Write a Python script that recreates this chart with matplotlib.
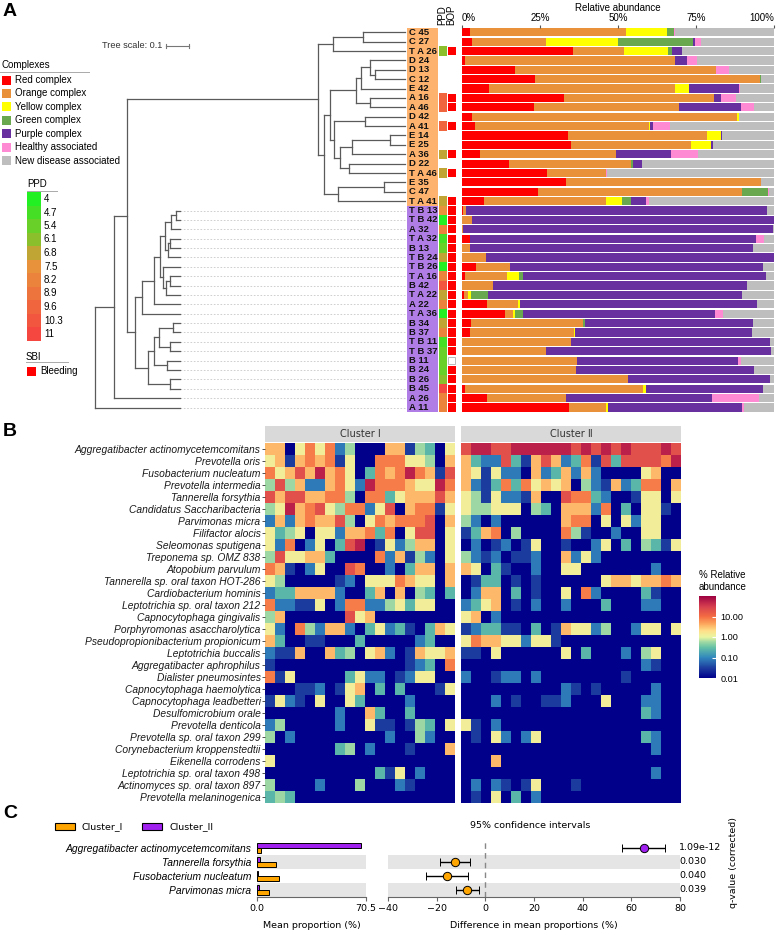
import numpy as np
import matplotlib
matplotlib.use("Agg")
import matplotlib.pyplot as plt
from matplotlib.colors import LinearSegmentedColormap, LogNorm, Normalize
from matplotlib.patches import Rectangle
from matplotlib.cm import ScalarMappable

plt.rcParams['font.family'] = ['Liberation Sans', 'DejaVu Sans']

W, H = 777, 935
fig = plt.figure(figsize=(W / 100, H / 100), dpi=100)


def px_axes(x0, y0, x1, y1):
    # axes placed by pixel box (top-left origin)
    return fig.add_axes([x0 / W, 1 - y1 / H, (x1 - x0) / W, (y1 - y0) / H])


# ---------------- panel A data ----------------
samples = ["C 45", "C 27", "T A 26", "D 24", "D 13", "C 12", "E 42", "A 16", "A 46", "D 42",
           "A 41", "E 14", "E 25", "A 36", "D 22", "T A 46", "E 35", "C 47", "T A 41",
           "T B 13", "T B 42", "A 32", "T A 32", "B 13", "T B 24", "T B 26", "T A 16", "B 42",
           "T A 22", "A 22", "T A 36", "B 34", "B 37", "T B 11", "T B 37", "B 11", "B 24",
           "B 26", "B 45", "A 26", "A 11"]
group = ["orange"] * 19 + ["purple"] * 22

red = [2.5, 3.3, 35.7, 1.1, 17.2, 23.3, 8.7, 32.7, 23.1, 3.3, 4.3, 34.1, 34.9, 5.9, 15.0, 27.2, 33.4, 24.5, 7.0,
       0.5, 0, 0, 2.5, 0, 0, 4.7, 1.1, 0, 0.7, 8.1, 14.0, 2.9, 2.6, 0, 0, 0, 0, 0, 1.0, 8.2, 34.4]
orange = [50.1, 23.7, 16.3, 67.2, 64.0, 72.1, 59.4, 47.9, 46.3, 84.9, 55.5, 44.3, 38.4, 43.5, 39.1, 18.9, 62.3, 65.2, 39.2,
          0.8, 3.4, 0.5, 0.2, 2.7, 7.9, 10.7, 13.4, 10.0, 1.4, 9.8, 2.5, 36.0, 33.3, 35.1, 26.9, 37.0, 36.6, 53.2, 56.9, 25.2, 11.8]
yellow = [13.2, 23.1, 14.1, 0, 0, 0, 4.7, 0, 0, 0.4, 0.4, 4.4, 6.6, 0, 0, 0, 0, 0, 5.1,
          0, 0, 0, 0, 0, 0, 0, 3.9, 0, 0.9, 0.7, 0.6, 0, 0.5, 0, 0, 0, 0, 0, 0.9, 0, 0.5]
green = [2.1, 24.0, 1.1, 0, 0, 0.3, 0, 0, 0, 0.2, 0, 0, 0, 0, 0.6, 0, 0, 8.2, 2.8,
         0, 0, 0, 0, 0, 0, 0, 1.1, 0, 5.3, 0, 2.5, 0.4, 0, 0, 0, 0, 0, 0, 0, 0, 0]
purple = [0, 0.5, 3.3, 3.7, 0, 0, 16.0, 2.3, 20.0, 0, 0.9, 0.6, 0.4, 17.4, 3.1, 0, 0, 0, 4.9,
          96.5, 96.4, 99.2, 91.3, 90.4, 92.0, 80.9, 78.0, 81.3, 81.4, 76.0, 61.4, 53.8, 56.5, 63.6, 71.9, 51.4,
          56.9, 45.5, 37.6, 46.8, 42.9]
pink = [0.3, 1.8, 0, 3.2, 4.3, 0, 0.2, 4.7, 4.2, 0, 5.5, 0, 0, 8.9, 0, 0.3, 0, 0.3, 0.8,
        0, 0, 0, 2.7, 0, 0, 0, 0, 0, 0, 0, 2.5, 0, 0, 0, 0, 0.8, 0, 0, 0, 14.9, 0.7]
gray = [31.8, 23.6, 29.5, 24.8, 14.5, 4.3, 11.0, 12.4, 6.4, 11.2, 33.4, 16.6, 19.7, 24.3, 42.2, 53.6, 4.3, 1.8, 40.2,
        2.2, 0.2, 0.3, 3.3, 6.9, 0.1, 3.7, 2.5, 8.7, 10.3, 5.4, 16.5, 6.9, 7.1, 1.3, 1.2, 10.8, 6.5, 1.3, 3.6, 4.9, 9.7]

nan = np.nan
ppd = [nan, nan, 6.1, nan, nan, nan, nan, 9.6, 9.6, nan, 9.6, nan, nan, 6.8, nan, 6.8, nan, nan, 6.8,
       7.5, 4.0, 8.2, 4.7, 5.4, 6.8, 4.0, 8.2, 10.3, 6.8, 8.2, 4.0, 6.8, 8.2, 4.7, 5.4, 5.4, 5.4, 6.1, 11.0, 8.2, 8.2]
bop = [nan, nan, 1, nan, nan, nan, nan, 1, 1, nan, 1, nan, nan, 1, nan, 1, nan, nan, 1,
       1, 1, 1, 1, 1, 1, 1, 1, 1, 1, 1, 1, 1, 1, 1, 1, 0, 1, 1, 1, 1, 1]
ppd_ticks = [4, 4.7, 5.4, 6.1, 6.8, 7.5, 8.2, 8.9, 9.6, 10.3, 11]

complex_names = ["Red complex", "Orange complex", "Yellow complex", "Green complex",
                 "Purple complex", "Healthy associated", "New disease associated"]
complex_vals = [red, orange, yellow, green, purple, pink, gray]
complex_cols = ["#FF0000", "#E8913A", "#FFFF00", "#6AA84F", "#67309E", "#FF8AD4", "#BEBEBE"]

# tree: (depth, child, child); depth in tree units (0.1 = scale bar)
tree = (0.0,
        (0.082,
         (0.137,
          (0.957,
           (1.021, (1.150, "C 45", "C 27"), "T A 26"),
           (0.983,
            (1.009,
             (1.120,
              (1.142, (1.180, "D 24", (1.202, "D 13", "C 12")), "E 42"),
              (1.180, "A 16", "A 46")),
             (1.026,
              (1.159, "D 42", "A 41"),
              (1.052,
               (1.103, (1.266, "E 14", "E 25"), "A 36"),
               (1.090, "D 22", "T A 46")))),
            (1.043, (1.240, "E 35", "C 47"), "T A 41"))),
          (0.172,
           (0.202,
            (0.253,
             (0.279,
              (0.300,
               (0.326, (0.348, "T B 13", "T B 42"), "A 32"),
               (0.313, (0.322, "T A 32", "B 13"), "T B 24")),
              (0.292, "T B 26", (0.305, (0.322, "T A 16", "B 42"), "T A 22"))),
             "A 22"),
            "T A 36"),
           (0.227,
            (0.253,
             (0.275, (0.335, "B 34", "B 37"), (0.322, "T B 11", "T B 37")),
             (0.309, "B 11", "B 24")),
            (0.322, "B 26", "B 45")))),
         "A 26"),
        "A 11")
tip_orange, tip_purple = 1.33, 0.365

# ---------------- panel B data ----------------
species = ["Aggregatibacter actinomycetemcomitans", "Prevotella oris", "Fusobacterium nucleatum",
           "Prevotella intermedia", "Tannerella forsythia", "Candidatus Saccharibacteria",
           "Parvimonas micra", "Filifactor alocis", "Seleomonas sputigena", "Treponema sp. OMZ 838",
           "Atopobium parvulum", "Tannerella sp. oral taxon HOT-286", "Cardiobacterium hominis",
           "Leptotrichia sp. oral taxon 212", "Capnocytophaga gingivalis", "Porphyromonas asaccharolytica",
           "Pseudopropionibacterium propionicum", "Leptotrichia buccalis", "Aggregatibacter aphrophilus",
           "Dialister pneumosintes", "Capnocytophaga haemolytica", "Capnocytophaga leadbetteri",
           "Desulfomicrobium orale", "Prevotella denticola", "Prevotella sp. oral taxon 299",
           "Corynebacterium kroppenstedtii", "Eikenella corrodens", "Leptotrichia sp. oral taxon 498",
           "Actinomyces sp. oral taxon 897", "Prevotella melaninogenica"]
# abundance class per cell (0 = 0.01 % ... 9 = highest)
levels = [0.01, 0.03, 0.08, 0.25, 0.55, 1.3, 3.5, 8.0, 20.0, 55.0]
cluster1 = ["6605757240006614305", "5616767150077755406", "7568696750376797618", "4846226752977765597",
            "8688667740773566686", "4596785477258067715", "2626766840576777806", "5345055266737058805",
            "5270250389015246605", "4855663000072614205", "7610250087002036606", "5400000120555765506",
            "2336666200360604303", "7221150277224535500", "4600000085600000000", "5207426620352310365",
            "6300110003000002300", "2116006340562016556", "1000000000000012307", "7150000035220125500",
            "0001120156030300015", "1521050053000020000", "0000000200630030000", "2400000200511014305",
            "4020000000002004200", "0000000340200010006", "5000000000000000000", "0000000000031502000",
            "4000020004000210000", "3430000000000000000"]
cluster2 = ["8998899999989898988898", "6322831686237183888879", "6515220623626200005600",
            "6213737565604216237706", "5415221600877320015505", "5445550430666270305510",
            "4202000000677050525500", "1367040000741002005500", "0201201500100250304315",
            "4212011200625200000000", "6503100200550000000200", "0133010100000056656676",
            "0266030100507200003100", "2356010200200030002200", "5602000000000000000000",
            "1233110301655240025505", "5766552551000000000000", "1105000000503000204500",
            "0000000000000000002100", "2001220200000000100000", "0000000000210100000200",
            "0002010011200050002200", "0000000000000000003200", "5102000000000000000000",
            "0105202500000000003200", "0000000000000000000200", "0006000000000000000000",
            "0000000000000000000200", "0202101500010000000000", "0105030200000000000000"]

# ---------------- panel C data ----------------
c_species = ["Aggregatibacter actinomycetemcomitans", "Tannerella forsythia",
             "Fusobacterium nucleatum", "Parvimonas micra"]
mean_I = [2.6, 12.4, 14.2, 7.8]
mean_II = [67.2, 2.0, 0.5, 1.5]
diff = [65.1, -12.5, -15.7, -7.4]
ci_low = [56.2, -18.5, -24.2, -12.0]
ci_high = [74.0, -6.4, -7.1, -2.7]
qvals = ["1.09e-12", "0.030", "0.040", "0.039"]

# ---------------- background (pixel) axes for legends/annotations ----------------
bg = px_axes(0, 0, W, H)
bg.set_xlim(0, W)
bg.set_ylim(H, 0)
bg.axis('off')

for letter, y in [("A", 11), ("B", 432), ("C", 813)]:
    bg.text(3, y, letter, fontsize=14, fontweight='bold', va='center', ha='left')

# ================= panel A =================
n = len(samples)
row0, pitch = 32.3, 9.38
ytop, ybot = row0 - pitch / 2, row0 + (n - 0.5) * pitch
row_of = {s: i for i, s in enumerate(samples)}
tree_col = "#5a5a5a"

ax_tree = px_axes(60, ytop, 407, ybot)
ax_tree.set_xlim(-0.150, 1.339)
ax_tree.set_ylim(n - 0.5, -0.5)
ax_tree.axis('off')


def draw_node(node):
    if isinstance(node, str):
        i = row_of[node]
        tip = tip_orange if group[i] == "orange" else tip_purple
        if tip < tip_orange:
            ax_tree.plot([tip, tip_orange], [i, i], color="#c8c8c8", lw=0.6, ls=(0, (2, 2)))
        return i, tip
    depth = node[0]
    pos = [draw_node(k) for k in node[1:]]
    ys = [p[0] for p in pos]
    ax_tree.plot([depth, depth], [min(ys), max(ys)], color=tree_col, lw=0.9, solid_capstyle='projecting')
    for y, d in pos:
        ax_tree.plot([depth, d], [y, y], color=tree_col, lw=0.9)
    return (min(ys) + max(ys)) / 2, depth


draw_node(tree)

# tree scale
ax_tree.plot([0.305, 0.405], [1.46, 1.46], color="#777777", lw=0.8)
for xx in (0.305, 0.405):
    ax_tree.plot([xx, xx], [1.26, 1.66], color="#777777", lw=0.8)
ax_tree.text(0.29, 1.46, "Tree scale: 0.1", fontsize=6.6, ha='right', va='center', color="#333333")

# sample labels
label_bg = {"orange": "#FDB36E", "purple": "#B07DE6"}
ax_lab = px_axes(407, ytop, 437.5, ybot)
ax_lab.barh(range(n), 1, height=1.0, color=[label_bg[g] for g in group], lw=0)
for i, s in enumerate(samples):
    ax_lab.text(0.07, i, s, fontsize=6.8, fontweight='bold', va='center', ha='left', color="#111111")
ax_lab.set_xlim(0, 1)
ax_lab.set_ylim(n - 0.5, -0.5)
ax_lab.axis('off')

# PPD / BOP columns
ppd_cmap = LinearSegmentedColormap.from_list(
    "ppd", [(0.0, "#22F022"), (0.3, "#8CC02C"), (0.4, "#C0A535"), (0.5, "#E8923C"), (1.0, "#F5473F")])
ppd_norm = Normalize(4, 11)
ax_cov = px_axes(438.7, ytop, 456, ybot)
for i in range(n):
    if not np.isnan(ppd[i]):
        ax_cov.barh(i, 0.93, left=0, height=1.0, color=ppd_cmap(ppd_norm(ppd[i])), lw=0)
    if not np.isnan(bop[i]):
        if bop[i] == 1:
            ax_cov.barh(i, 0.95, left=1.03, height=0.88, color="#FF0000", lw=0)
        else:
            ax_cov.barh(i, 0.85, left=1.08, height=0.8, color="white", edgecolor="#b0b0b0", lw=0.6)
ax_cov.text(0.46, -0.75, "PPD", rotation=90, fontsize=7, ha='center', va='bottom')
ax_cov.text(1.5, -0.75, "BOP", rotation=90, fontsize=7, ha='center', va='bottom')
ax_cov.set_xlim(0, 2)
ax_cov.set_ylim(n - 0.5, -0.5)
ax_cov.axis('off')

# stacked relative abundance bars
ax_bar = px_axes(461.7, ytop, 774.3, ybot)
left = np.zeros(n)
for vals, col in zip(complex_vals, complex_cols):
    vals = np.array(vals, dtype=float)
    ax_bar.barh(np.arange(n), vals, left=left, height=0.87, color=col, lw=0)
    left += vals
ax_bar.set_xlim(0, 100)
ax_bar.set_ylim(n - 0.5, -0.5)
for sp in ax_bar.spines.values():
    sp.set_visible(False)
ax_bar.set_yticks([])
ax_bar.xaxis.tick_top()
ax_bar.set_xticks([0, 25, 50, 75, 100])
ax_bar.set_xticklabels(["0%", "25%", "50%", "75%", "100%"], fontsize=7)
ax_bar.tick_params(axis='x', length=2, pad=1, color="#555555")
tl = ax_bar.get_xticklabels()
tl[0].set_ha('left')
tl[-1].set_ha('right')
ax_bar.xaxis.set_label_position('top')
ax_bar.set_xlabel("Relative abundance", fontsize=7, labelpad=2)

# complexes legend
bg.text(1, 65, "Complexes", fontsize=7, va='center', ha='left')
bg.plot([0, 89], [71.5, 71.5], color="#aaaaaa", lw=0.7)
for k, (name, col) in enumerate(zip(complex_names, complex_cols)):
    yc = 80 + k * 13.45
    bg.add_patch(Rectangle((2, yc - 4.5), 9, 9, facecolor=col, edgecolor="none"))
    bg.text(15, yc, name, fontsize=7, va='center', ha='left')

# PPD legend
bg.text(27, 184, "PPD", fontsize=7, va='center', ha='left')
bg.plot([27, 57], [190.5, 190.5], color="#aaaaaa", lw=0.7)
for k, v in enumerate(ppd_ticks):
    y0 = 192 + k * 13.5
    bg.add_patch(Rectangle((27, y0), 14, 13.6, facecolor=ppd_cmap(ppd_norm(v)), edgecolor="none"))
    bg.text(44, y0 + 7, f"{v:g}", fontsize=7, va='center', ha='left')

# SBI legend
bg.text(26, 356.5, "SBI", fontsize=7, va='center', ha='left')
bg.plot([26, 68], [362, 362], color="#aaaaaa", lw=0.7)
bg.add_patch(Rectangle((27, 366.5), 9, 9, facecolor="#FF0000", edgecolor="none"))
bg.text(40, 371, "Bleeding", fontsize=7, va='center', ha='left')

# ================= panel B =================
heat_cmap = LinearSegmentedColormap.from_list(
    "abund", [(0.0, "#00008B"), (0.125, "#1E3FA0"), (0.25, "#3288BD"), (0.375, "#66C2A5"),
              (0.45, "#ABDDA4"), (0.5, "#E9F5A0"), (0.575, "#FEE08B"), (0.65, "#FDAE61"),
              (0.75, "#F46D43"), (0.875, "#D53E4F"), (1.0, "#9E0142")])
heat_norm = LogNorm(0.01, 100)
heat_I = np.array([[levels[int(c)] for c in r] for r in cluster1])
heat_II = np.array([[levels[int(c)] for c in r] for r in cluster2])

hy0, hy1 = 443, 803
for (x0, x1, data, title) in [(265, 455, heat_I, "Cluster \u2160"), (461, 681, heat_II, "Cluster \u2161")]:
    ax = px_axes(x0, hy0, x1, hy1)
    ax.pcolormesh(data, cmap=heat_cmap, norm=heat_norm)
    ax.set_ylim(len(species), 0)
    ax.set_xlim(0, data.shape[1])
    ax.set_xticks([])
    for sp in ax.spines.values():
        sp.set_visible(False)
    if x0 == 265:
        ax.set_yticks(np.arange(len(species)) + 0.5)
        ax.set_yticklabels(species, fontsize=7.4, style='italic', color="#1a1a1a")
        ax.tick_params(axis='y', length=2.2, pad=1, color="#333333", width=0.6)
    else:
        ax.set_yticks([])
    bg.add_patch(Rectangle((x0, 426), x1 - x0, 16, facecolor="#D9D9D9", edgecolor="none"))
    bg.text((x0 + x1) / 2, 434, title, fontsize=7, ha='center', va='center', color="#333333",
            family=['DejaVu Sans', 'Noto Sans CJK SC'])

cax = px_axes(699, 596, 716, 678)
cb = fig.colorbar(ScalarMappable(norm=heat_norm, cmap=heat_cmap), cax=cax)
cb.outline.set_visible(False)
cb.set_ticks([0.01, 0.1, 1, 10])
cb.set_ticklabels(["0.01", "0.10", "1.00", "10.00"])
cb.ax.minorticks_off()
cb.ax.tick_params(labelsize=6.6, length=3, direction='in', color='white', width=0.8, pad=3)
bg.text(699, 581, "% Relative\nabundance", fontsize=7, ha='left', va='center', linespacing=1.15)

# ================= panel C =================
orange_c, purple_c = "#FFA500", "#A020F0"
cy0, cy1 = 841, 897
nc = len(c_species)
yy = np.arange(nc)

axl = px_axes(257, cy0, 366, cy1)
axr = px_axes(388, cy0, 680, cy1)
for ax in (axl, axr):
    for k in (1, 3):
        ax.axhspan(k - 0.5, k + 0.5, color="#E5E5E5", lw=0, zorder=0)
    ax.set_ylim(nc - 0.5, -0.5)
    for s in ("top", "right", "left"):
        ax.spines[s].set_visible(False)
    ax.spines['bottom'].set_color("#666666")
    ax.spines['bottom'].set_linewidth(0.8)
    ax.tick_params(axis='x', labelsize=6.8, length=3, color="#666666", pad=2)

axl.barh(yy - 0.17, mean_II, height=0.32, color=purple_c, edgecolor="black", lw=0.7, zorder=2)
axl.barh(yy + 0.17, mean_I, height=0.32, color=orange_c, edgecolor="black", lw=0.7, zorder=2)
axl.set_xlim(0, 70.5)
axl.set_xticks([0, 70.5])
axl.set_xticklabels(["0.0", "70.5"], family='DejaVu Sans')
axl.set_yticks(yy)
axl.set_yticklabels(c_species, fontsize=7.4, style='italic')
axl.tick_params(axis='y', length=0, pad=4)
axl.set_xlabel("Mean proportion (%)", fontsize=6.8, family='DejaVu Sans', labelpad=6)

axr.axvline(0, color="#888888", lw=1, ls=(0, (4, 3)), zorder=1)
for i in range(nc):
    col = purple_c if diff[i] > 0 else orange_c
    axr.errorbar(diff[i], i, xerr=[[diff[i] - ci_low[i]], [ci_high[i] - diff[i]]], fmt='o',
                 color='black', ecolor='black', elinewidth=1, capsize=3, capthick=1,
                 mfc=col, mec='black', ms=6, mew=0.7, zorder=3)
axr.set_xlim(-40, 80)
axr.set_xticks(range(-40, 81, 20))
for lab in axr.get_xticklabels():
    lab.set_family('DejaVu Sans')
axr.set_yticks([])
axr.set_xlabel("Difference in mean proportions (%)", fontsize=6.8, family='DejaVu Sans', labelpad=6)

for i, q in enumerate(qvals):
    bg.text(679, cy0 + 7 + i * 14, q, fontsize=6.8, ha='left', va='center', family='DejaVu Sans')
bg.text(733, 862, "q-value (corrected)", fontsize=6.8, rotation=90, ha='center', va='center',
        family='DejaVu Sans')
bg.text(530, 826, "95% confidence intervals", fontsize=6.8, ha='center', va='center', family='DejaVu Sans')

bg.add_patch(Rectangle((55, 823), 20, 6.5, facecolor=orange_c, edgecolor="black", lw=0.8))
bg.text(82, 826.5, "Cluster_I", fontsize=6.8, ha='left', va='center', family='DejaVu Sans')
bg.add_patch(Rectangle((142, 823), 20, 6.5, facecolor=purple_c, edgecolor="black", lw=0.8))
bg.text(169, 826.5, "Cluster_II", fontsize=6.8, ha='left', va='center', family='DejaVu Sans')

fig.savefig("out.png", dpi=100)
